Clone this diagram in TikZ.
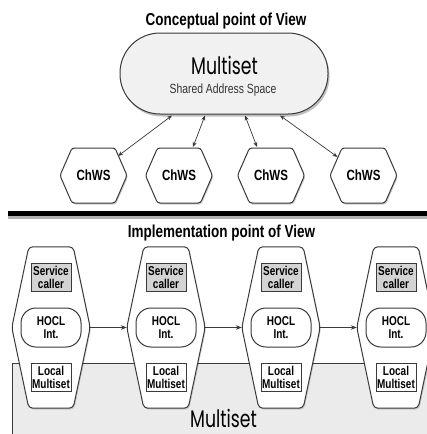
\documentclass[tikz,border=0pt]{standalone}
\usepackage{fontspec}
\setmainfont[FakeStretch=0.78]{Liberation Sans}
\newfontfamily\geofont[FakeStretch=0.72]{Poppins}
\usetikzlibrary{calc,arrows.meta}
\definecolor{edge}{HTML}{3A3A3A}
\definecolor{pillfill}{HTML}{F1F1F1}
\definecolor{basefill}{HTML}{EBEBEB}
\definecolor{boxfill}{HTML}{D4D4D4}
\begin{document}
\begin{tikzpicture}[x=1pt,y=1pt,
  title/.style={font=\fontsize{17.3}{20}\selectfont\bfseries},
  outline/.style={draw=edge, line width=1pt},
  frame/.style={rectangle, draw=none, inner sep=0pt},
  chwsfont/.style={font=\fontsize{14.8}{16}\selectfont\bfseries},
  svcbox/.style={rectangle, draw=edge, line width=1pt, fill=boxfill, minimum width=40pt,
    minimum height=28pt, inner sep=0pt, align=center,
    font=\fontsize{12.8}{13}\selectfont\bfseries},
  localbox/.style={svcbox, fill=white},
  hocl/.style={rectangle, rounded corners=15pt, draw=edge, line width=1pt, fill=white, minimum width=60pt,
    minimum height=39pt, inner sep=0pt, align=center,
    font=\fontsize{12.8}{13}\selectfont\bfseries},
  darrow/.style={{Stealth[length=5pt,width=4pt]}-{Stealth[length=5pt,width=4pt]}, draw=edge, line width=0.7pt},
  harrow/.style={-{Stealth[length=6pt,width=4.5pt]}, draw=edge, line width=0.7pt}
]
\useasboundingbox (0,0) rectangle (427,-434);
\clip (0,0) rectangle (427,-434);
% top part
\node[title] (t1) at (226,-21) {Conceptual point of View};
% shared multiset pill
\fill[black, opacity=0.25, rounded corners=40pt] (121.5,-35.5) rectangle (329.5,-116.5);
\node[rectangle, rounded corners=40pt, draw=edge, line width=1pt, fill=pillfill,
      minimum width=208pt, minimum height=81pt, inner sep=0pt] (ms) at (224,-73.5) {};
\node[anchor=base, font=\geofont\fontsize{24}{26}\selectfont] (mst) at (224.5,-74) {Multiset};
\node[anchor=base, font=\fontsize{13.3}{15}\selectfont, text=black!80] (msa) at (223,-93) {Shared Address Space};
% ChWS hexagons
\foreach \i/\x in {1/93.5,2/179,3/271,4/363.5} {
  \coordinate (cc\i) at (\x,-175.5);
  \fill[black, opacity=0.2, rounded corners=2.5pt]
    ($(cc\i)+(-33.5+1,-1.5)$) -- ($(cc\i)+(-21.5+1,27.5-1.5)$) -- ($(cc\i)+(21.5+1,27.5-1.5)$)
    -- ($(cc\i)+(33.5+1,-1.5)$) -- ($(cc\i)+(21.5+1,-27.5-1.5)$) -- ($(cc\i)+(-21.5+1,-27.5-1.5)$) -- cycle;
  \draw[outline, fill=white, rounded corners=2.5pt]
    ($(cc\i)+(-33.5,0)$) -- ($(cc\i)+(-21.5,27.5)$) -- ($(cc\i)+(21.5,27.5)$)
    -- ($(cc\i)+(33.5,0)$) -- ($(cc\i)+(21.5,-27.5)$) -- ($(cc\i)+(-21.5,-27.5)$) -- cycle;
  \node[chwsfont] (c\i) at (cc\i) {ChWS};
}
\draw[darrow] ($(ms.south)+(-52,-1)$) -- ($(cc1)+(24.5,19.5)$);
\draw[darrow] ($(ms.south)+(-19,-1)$) -- ($(cc2)+(14,28.5)$);
\draw[darrow] ($(ms.south)+(21,-1)$) -- ($(cc3)+(-14,28.5)$);
\draw[darrow] ($(ms.south)+(56,-1)$) -- ($(cc4)+(-26,18.5)$);
% separator
\fill[black!30] (8,-213) rectangle (432,-219);
\fill[black] (8,-211) rectangle (432,-216);
% bottom part
\node[title] (t2) at (221.5,-233) {Implementation point of View};
\fill[basefill] (12,-363) rectangle (440,-440);
\draw[edge, line width=1pt] (12,-440) -- (12,-363) -- (440,-363);
\node[anchor=base, font=\geofont\fontsize{24}{26}\selectfont] (mb) at (223.5,-427) {Multiset};
\foreach \i/\x in {1/51,2/166,3/281,4/396} {
  \node[frame, minimum width=78pt, minimum height=161pt] (h\i) at (\x,-327.5) {};
  \fill[black, opacity=0.15, rounded corners=4pt]
    ($(h\i.west)+(1,-1.5)$) -- ($(h\i.north west)+(17+1,-1.5)$) -- ($(h\i.north east)+(-17+1,-1.5)$)
    -- ($(h\i.east)+(1,-1.5)$) -- ($(h\i.south east)+(-17+1,-1.5)$) -- ($(h\i.south west)+(17+1,-1.5)$) -- cycle;
  \draw[outline, fill=white, rounded corners=4pt]
    (h\i.west) -- ($(h\i.north west)+(17,0)$) -- ($(h\i.north east)+(-17,0)$)
    -- (h\i.east) -- ($(h\i.south east)+(-17,0)$) -- ($(h\i.south west)+(17,0)$) -- cycle;
  \node[svcbox] (s\i) at (\x,-277) {Service\\caller};
  \node[hocl] (o\i) at (\x,-327.5) {HOCL\\Int.};
  \node[localbox] (l\i) at (\x,-377) {Local\\Multiset};
}
\draw[harrow] (h1.east) -- (h2.west);
\draw[harrow] (h2.east) -- (h3.west);
\draw[harrow] (h3.east) -- (h4.west);
\end{tikzpicture}
\end{document}
